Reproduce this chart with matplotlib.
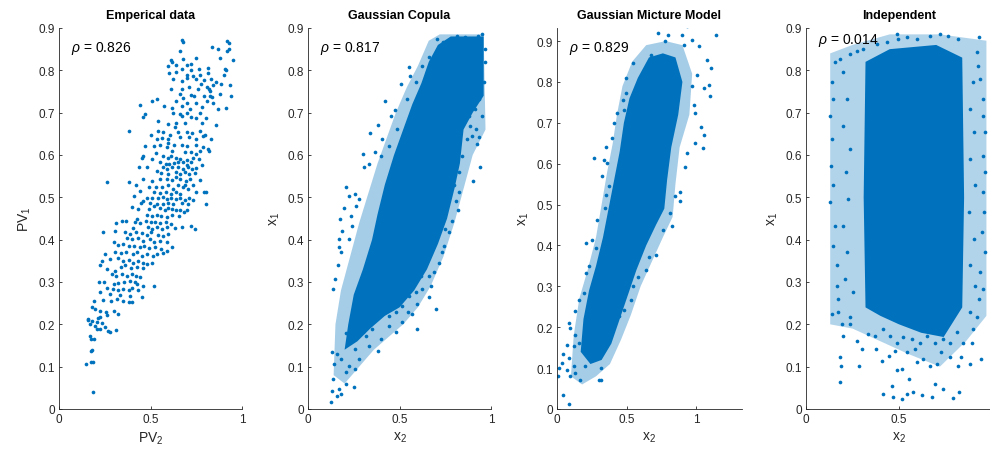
import numpy as np
import matplotlib.pyplot as plt

plt.rcParams['font.family'] = ['Liberation Sans', 'DejaVu Sans']
plt.rcParams['mathtext.fontset'] = 'custom'
plt.rcParams['mathtext.rm'] = 'Liberation Sans'
plt.rcParams['mathtext.it'] = 'Liberation Sans:italic'

BLUE = '#0072BD'
GREY = '#262626'

titles = ['Emperical data', 'Gaussian Copula', 'Gaussian Micture Model', 'Independent']
rho_vals = [0.826, 0.817, 0.829, 0.014]
xlabels = ['PV$_2$', 'x$_2$', 'x$_2$', 'x$_2$']
ylabels = ['PV$_1$', 'x$_1$', 'x$_1$', 'x$_1$']
xlims = [1.0, 1.0, 1.324, 1.0]
ylims = [0.9, 0.9, 0.932, 0.9]

# measured PV pairs (PV_2, PV_1)
emp_pts = [
    (0.67, 0.872), (0.68, 0.868), (0.92, 0.87), (0.93, 0.864), (0.835, 0.855), (0.87, 0.85), (0.66, 0.845),
    (0.93, 0.85), (0.92, 0.846), (0.61, 0.824), (0.62, 0.82), (0.675, 0.827), (0.75, 0.829), (0.95, 0.824),
    (0.88, 0.83), (0.595, 0.81), (0.64, 0.813), (0.70, 0.812), (0.72, 0.814), (0.765, 0.803), (0.815, 0.805),
    (0.907, 0.803), (0.915, 0.80), (0.72, 0.80), (0.67, 0.803), (0.60, 0.794), (0.637, 0.795), (0.70, 0.79),
    (0.73, 0.787), (0.77, 0.79), (0.815, 0.794), (0.90, 0.79), (0.625, 0.78), (0.67, 0.775), (0.70, 0.783),
    (0.75, 0.78), (0.79, 0.777), (0.83, 0.78), (0.857, 0.772), (0.777, 0.768), (0.84, 0.765), (0.887, 0.768),
    (0.933, 0.765), (0.67, 0.756), (0.61, 0.757), (0.71, 0.76), (0.76, 0.757), (0.81, 0.76), (0.818, 0.756),
    (0.827, 0.752), (0.66, 0.744), (0.72, 0.742), (0.74, 0.74), (0.79, 0.739), (0.824, 0.74), (0.837, 0.736),
    (0.88, 0.744), (0.94, 0.74), (0.677, 0.734), (0.534, 0.732), (0.506, 0.728), (0.637, 0.728), (0.70, 0.724),
    (0.75, 0.724), (0.81, 0.728), (0.84, 0.724), (0.44, 0.717), (0.575, 0.715), (0.615, 0.71), (0.67, 0.715),
    (0.715, 0.709), (0.78, 0.713), (0.87, 0.709), (0.915, 0.71), (0.77, 0.70), (0.624, 0.70), (0.66, 0.697),
    (0.70, 0.70), (0.47, 0.697), (0.46, 0.69), (0.673, 0.693), (0.724, 0.689), (0.75, 0.687), (0.806, 0.687),
    (0.86, 0.672), (0.593, 0.673), (0.64, 0.676), (0.69, 0.676), (0.543, 0.681), (0.635, 0.665), (0.78, 0.676),
    (0.385, 0.656), (0.50, 0.647), (0.543, 0.657), (0.57, 0.654), (0.606, 0.648), (0.65, 0.654), (0.697, 0.654),
    (0.728, 0.651), (0.77, 0.656), (0.80, 0.647), (0.83, 0.638), (0.534, 0.638), (0.565, 0.64), (0.597, 0.638),
    (0.66, 0.642), (0.71, 0.643), (0.75, 0.638), (0.788, 0.646), (0.47, 0.622), (0.52, 0.622), (0.55, 0.624),
    (0.593, 0.628), (0.63, 0.624), (0.67, 0.624), (0.70, 0.622), (0.746, 0.624), (0.788, 0.62), (0.815, 0.614),
    (0.818, 0.61), (0.588, 0.618), (0.615, 0.61), (0.688, 0.606), (0.72, 0.608), (0.75, 0.602), (0.77, 0.61),
    (0.457, 0.597), (0.53, 0.605), (0.566, 0.598), (0.597, 0.592), (0.61, 0.598), (0.642, 0.594), (0.66, 0.59),
    (0.697, 0.588), (0.733, 0.592), (0.764, 0.59), (0.452, 0.592), (0.506, 0.59), (0.55, 0.583), (0.583, 0.579),
    (0.602, 0.579), (0.628, 0.581), (0.65, 0.583), (0.68, 0.583), (0.70, 0.577), (0.724, 0.583), (0.784, 0.576),
    (0.436, 0.572), (0.48, 0.571), (0.57, 0.571), (0.59, 0.567), (0.615, 0.571), (0.65, 0.572), (0.675, 0.567),
    (0.706, 0.571), (0.726, 0.567), (0.75, 0.57), (0.534, 0.563), (0.56, 0.557), (0.597, 0.555), (0.642, 0.559),
    (0.66, 0.555), (0.688, 0.559), (0.71, 0.554), (0.742, 0.557), (0.26, 0.537), (0.385, 0.537), (0.46, 0.543),
    (0.506, 0.539), (0.55, 0.543), (0.588, 0.543), (0.62, 0.542), (0.637, 0.547), (0.66, 0.543), (0.693, 0.539),
    (0.715, 0.543), (0.77, 0.542), (0.42, 0.528), (0.443, 0.516), (0.49, 0.524), (0.53, 0.524), (0.565, 0.524),
    (0.597, 0.528), (0.624, 0.52), (0.652, 0.529), (0.675, 0.524), (0.69, 0.529), (0.706, 0.52), (0.73, 0.528),
    (0.75, 0.513), (0.793, 0.513), (0.806, 0.512), (0.52, 0.512), (0.55, 0.51), (0.584, 0.512), (0.613, 0.509),
    (0.642, 0.512), (0.66, 0.508), (0.41, 0.504), (0.483, 0.498), (0.51, 0.498), (0.543, 0.498), (0.57, 0.50),
    (0.588, 0.496), (0.61, 0.498), (0.637, 0.496), (0.66, 0.498), (0.688, 0.494), (0.71, 0.498), (0.733, 0.494),
    (0.446, 0.487), (0.46, 0.492), (0.497, 0.487), (0.533, 0.484), (0.566, 0.485), (0.597, 0.487), (0.624, 0.484),
    (0.67, 0.487), (0.706, 0.484), (0.806, 0.484), (0.397, 0.476), (0.434, 0.472), (0.492, 0.472), (0.52, 0.479),
    (0.55, 0.475), (0.58, 0.47), (0.597, 0.474), (0.62, 0.472), (0.642, 0.469), (0.66, 0.471), (0.682, 0.465),
    (0.697, 0.471), (0.479, 0.458), (0.506, 0.457), (0.534, 0.458), (0.56, 0.455), (0.588, 0.453), (0.615, 0.458),
    (0.655, 0.457), (0.425, 0.449), (0.31, 0.439), (0.343, 0.443), (0.365, 0.445), (0.416, 0.441), (0.443, 0.439),
    (0.474, 0.445), (0.50, 0.441), (0.524, 0.442), (0.552, 0.439), (0.582, 0.442), (0.61, 0.437), (0.485, 0.429),
    (0.51, 0.425), (0.534, 0.429), (0.565, 0.425), (0.588, 0.43), (0.633, 0.427), (0.67, 0.429), (0.72, 0.433),
    (0.742, 0.425), (0.403, 0.427), (0.243, 0.419), (0.307, 0.421), (0.36, 0.417), (0.39, 0.413), (0.42, 0.417),
    (0.452, 0.415), (0.48, 0.411), (0.50, 0.417), (0.543, 0.411), (0.57, 0.408), (0.597, 0.413), (0.37, 0.403),
    (0.397, 0.402), (0.434, 0.403), (0.46, 0.398), (0.497, 0.402), (0.52, 0.395), (0.552, 0.398), (0.588, 0.394),
    (0.62, 0.382), (0.30, 0.394), (0.325, 0.387), (0.352, 0.39), (0.38, 0.384), (0.41, 0.386), (0.44, 0.382),
    (0.466, 0.386), (0.494, 0.38), (0.524, 0.382), (0.56, 0.378), (0.588, 0.374), (0.307, 0.37), (0.338, 0.369),
    (0.367, 0.372), (0.403, 0.366), (0.428, 0.37), (0.452, 0.362), (0.483, 0.366), (0.512, 0.362), (0.534, 0.366),
    (0.566, 0.369), (0.252, 0.366), (0.234, 0.35), (0.28, 0.354), (0.32, 0.356), (0.348, 0.35), (0.38, 0.353),
    (0.407, 0.346), (0.434, 0.35), (0.457, 0.346), (0.48, 0.343), (0.506, 0.346), (0.338, 0.335), (0.36, 0.339),
    (0.392, 0.332), (0.425, 0.336), (0.457, 0.332), (0.26, 0.331), (0.307, 0.327), (0.225, 0.339), (0.288, 0.319),
    (0.312, 0.315), (0.343, 0.318), (0.37, 0.313), (0.397, 0.319), (0.42, 0.315), (0.443, 0.311), (0.388, 0.303),
    (0.416, 0.299), (0.356, 0.301), (0.221, 0.299), (0.245, 0.299), (0.298, 0.295), (0.325, 0.298), (0.425, 0.295),
    (0.52, 0.29), (0.461, 0.291), (0.26, 0.285), (0.294, 0.283), (0.32, 0.281), (0.352, 0.283), (0.38, 0.281),
    (0.397, 0.285), (0.43, 0.282), (0.225, 0.276), (0.28, 0.272), (0.334, 0.269), (0.39, 0.268), (0.452, 0.265),
    (0.385, 0.252), (0.397, 0.252), (0.243, 0.257), (0.285, 0.256), (0.316, 0.26), (0.352, 0.256), (0.19, 0.256),
    (0.18, 0.24), (0.194, 0.236), (0.225, 0.232), (0.258, 0.228), (0.298, 0.232), (0.325, 0.224), (0.26, 0.222),
    (0.225, 0.217), (0.212, 0.214), (0.16, 0.213), (0.18, 0.209), (0.207, 0.205), (0.234, 0.203), (0.17, 0.20),
    (0.196, 0.197), (0.254, 0.193), (0.21, 0.189), (0.225, 0.189), (0.27, 0.185), (0.28, 0.183), (0.312, 0.187),
    (0.157, 0.211), (0.17, 0.173), (0.175, 0.165), (0.19, 0.165), (0.175, 0.138), (0.18, 0.14), (0.175, 0.112),
    (0.185, 0.112), (0.15, 0.106), (0.185, 0.039),
]

# copula samples: saturated core outline, thinner speckled rim, scattered edge samples
cop_core = [
    [(0.22, 0.20), (0.25, 0.27), (0.30, 0.33), (0.35, 0.40), (0.38, 0.46), (0.42, 0.53), (0.47, 0.60),
     (0.52, 0.66), (0.57, 0.72), (0.62, 0.77), (0.66, 0.82), (0.71, 0.86), (0.78, 0.88), (0.96, 0.88),
     (0.96, 0.74), (0.90, 0.70), (0.85, 0.66), (0.83, 0.58), (0.80, 0.52), (0.76, 0.45), (0.71, 0.39),
     (0.65, 0.33), (0.58, 0.28), (0.50, 0.24), (0.42, 0.22), (0.34, 0.19), (0.27, 0.16), (0.20, 0.14)],
]
cop_halo = [
    [(0.14, 0.08), (0.15, 0.20), (0.18, 0.28), (0.23, 0.36), (0.28, 0.44), (0.33, 0.51), (0.38, 0.58),
     (0.43, 0.64), (0.48, 0.70), (0.54, 0.76), (0.60, 0.81), (0.66, 0.87), (0.72, 0.885), (0.96, 0.885),
     (0.97, 0.66), (0.90, 0.60), (0.85, 0.52), (0.80, 0.44), (0.74, 0.36), (0.67, 0.29), (0.60, 0.24),
     (0.52, 0.20), (0.44, 0.17), (0.36, 0.14), (0.28, 0.10), (0.20, 0.06)],
]
cop_pts = [
    (0.55, 0.807), (0.51, 0.768), (0.56, 0.786), (0.42, 0.728), (0.38, 0.671), (0.34, 0.652), (0.456, 0.691),
    (0.474, 0.706), (0.407, 0.638), (0.367, 0.606), (0.298, 0.602), (0.307, 0.571), (0.207, 0.524),
    (0.194, 0.474), (0.174, 0.449), (0.185, 0.421), (0.17, 0.402), (0.225, 0.504), (0.258, 0.509),
    (0.28, 0.496), (0.334, 0.579), (0.397, 0.598), (0.443, 0.622), (0.488, 0.661), (0.543, 0.732),
    (0.588, 0.772), (0.624, 0.811), (0.66, 0.831), (0.94, 0.571), (0.90, 0.539), (0.925, 0.626), (0.896, 0.646),
    (0.92, 0.661), (0.878, 0.693), (0.842, 0.598), (0.82, 0.469), (0.81, 0.492), (0.77, 0.417), (0.742, 0.386),
    (0.697, 0.236), (0.66, 0.264), (0.67, 0.291), (0.597, 0.248), (0.597, 0.189), (0.57, 0.224), (0.515, 0.205),
    (0.548, 0.228), (0.479, 0.181), (0.443, 0.197), (0.38, 0.138), (0.334, 0.15), (0.28, 0.118), (0.258, 0.094),
    (0.207, 0.087), (0.21, 0.059), (0.252, 0.051), (0.17, 0.047), (0.18, 0.035), (0.156, 0.031), (0.13, 0.043),
    (0.125, 0.016), (0.138, 0.071), (0.143, 0.106), (0.156, 0.13), (0.13, 0.134), (0.18, 0.118), (0.225, 0.102),
    (0.258, 0.142), (0.316, 0.173), (0.352, 0.189), (0.397, 0.165), (0.298, 0.181), (0.138, 0.283),
    (0.149, 0.307), (0.162, 0.339), (0.18, 0.37), (0.17, 0.382), (0.234, 0.457), (0.265, 0.48), (0.243, 0.433),
    (0.225, 0.402), (0.706, 0.874), (0.737, 0.866), (0.77, 0.858), (0.815, 0.882), (0.86, 0.878), (0.95, 0.886),
    (0.878, 0.874), (0.93, 0.882), (0.965, 0.819), (0.969, 0.85), (0.96, 0.772), (0.933, 0.732), (0.95, 0.693),
    (0.915, 0.709), (0.887, 0.669), (0.87, 0.638), (0.933, 0.642), (0.824, 0.559), (0.797, 0.528),
    (0.824, 0.512), (0.788, 0.445), (0.751, 0.425), (0.733, 0.37), (0.715, 0.346), (0.688, 0.323), (0.66, 0.315),
    (0.624, 0.283), (0.615, 0.315), (0.588, 0.276), (0.552, 0.268), (0.515, 0.244), (0.479, 0.228),
    (0.443, 0.22), (0.207, 0.18),
]

# mixture model samples
gmm_core = [
    [(0.17, 0.14), (0.19, 0.22), (0.23, 0.29), (0.28, 0.35), (0.33, 0.42), (0.37, 0.49), (0.41, 0.56),
     (0.45, 0.63), (0.48, 0.70), (0.52, 0.76), (0.58, 0.81), (0.66, 0.86), (0.76, 0.87), (0.85, 0.86),
     (0.90, 0.80), (0.87, 0.72), (0.82, 0.64), (0.79, 0.56), (0.77, 0.49), (0.71, 0.45), (0.64, 0.40),
     (0.57, 0.34), (0.51, 0.28), (0.45, 0.22), (0.39, 0.16), (0.32, 0.12), (0.24, 0.11)],
]
gmm_halo = [
    [(0.10, 0.08), (0.12, 0.18), (0.16, 0.27), (0.22, 0.34), (0.28, 0.42), (0.32, 0.50), (0.36, 0.58),
     (0.40, 0.65), (0.43, 0.72), (0.47, 0.79), (0.54, 0.85), (0.64, 0.89), (0.78, 0.90), (0.90, 0.89),
     (0.97, 0.82), (0.95, 0.72), (0.88, 0.64), (0.85, 0.55), (0.83, 0.47), (0.76, 0.42), (0.68, 0.36),
     (0.60, 0.30), (0.53, 0.23), (0.46, 0.17), (0.38, 0.11), (0.28, 0.08), (0.18, 0.06)],
]
gmm_pts = [
    (0.01, 0.08), (0.015, 0.10), (0.034, 0.113), (0.046, 0.135), (0.083, 0.012), (0.046, 0.035), (0.07, 0.096),
    (0.095, 0.08), (0.119, 0.104), (0.083, 0.125), (0.119, 0.153), (0.155, 0.161), (0.131, 0.088),
    (0.204, 0.104), (0.167, 0.072), (0.301, 0.072), (0.313, 0.10), (0.265, 0.129), (0.083, 0.21),
    (0.095, 0.198), (0.131, 0.239), (0.155, 0.267), (0.192, 0.284), (0.131, 0.182), (0.07, 0.157),
    (0.209, 0.333), (0.228, 0.349), (0.277, 0.394), (0.252, 0.414), (0.209, 0.406), (0.284, 0.463),
    (0.265, 0.614), (0.345, 0.492), (0.35, 0.524), (0.374, 0.545), (0.325, 0.569), (0.362, 0.602),
    (0.34, 0.61), (0.35, 0.642), (0.398, 0.663), (0.41, 0.699), (0.434, 0.724), (0.483, 0.732), (0.471, 0.756),
    (0.495, 0.773), (0.495, 0.81), (0.544, 0.846), (0.617, 0.801), (0.677, 0.867), (0.726, 0.92), (0.774, 0.90),
    (0.799, 0.915), (0.896, 0.915), (0.932, 0.936), (0.968, 0.903), (0.908, 0.891), (1.017, 0.887),
    (1.078, 0.854), (1.102, 0.834), (1.138, 0.914), (1.09, 0.793), (1.053, 0.785), (1.097, 0.765),
    (1.005, 0.818), (0.968, 0.789), (0.98, 0.744), (0.993, 0.724), (1.03, 0.691), (1.053, 0.671),
    (1.049, 0.638), (0.993, 0.651), (0.932, 0.626), (0.92, 0.593), (0.883, 0.532), (0.883, 0.508),
    (0.81, 0.479), (0.847, 0.52), (0.823, 0.447), (0.762, 0.439), (0.714, 0.377), (0.66, 0.373),
    (0.641, 0.341), (0.58, 0.324), (0.544, 0.30), (0.532, 0.267), (0.483, 0.243), (0.447, 0.227),
    (0.398, 0.198), (0.35, 0.161), (0.313, 0.137), (0.252, 0.121), (0.313, 0.072),
]

# independent samples
ind_core = [
    [(0.32, 0.24), (0.31, 0.50), (0.32, 0.82), (0.45, 0.85), (0.70, 0.86), (0.84, 0.83), (0.85, 0.50),
     (0.84, 0.24), (0.74, 0.17), (0.62, 0.18), (0.50, 0.20), (0.40, 0.22)],
]
ind_halo = [
    [(0.13, 0.20), (0.13, 0.84), (0.25, 0.86), (0.45, 0.885), (0.72, 0.885), (0.97, 0.87), (0.97, 0.22),
     (0.86, 0.16), (0.72, 0.10), (0.55, 0.13), (0.40, 0.16), (0.25, 0.19)],
]
ind_pts = [
    (0.412, 0.035), (0.46, 0.055), (0.466, 0.028), (0.514, 0.024), (0.541, 0.035), (0.577, 0.039),
    (0.622, 0.033), (0.676, 0.029), (0.694, 0.059), (0.738, 0.047), (0.792, 0.025), (0.824, 0.039),
    (0.183, 0.063), (0.487, 0.091), (0.514, 0.094), (0.556, 0.071), (0.407, 0.114), (0.446, 0.126),
    (0.478, 0.138), (0.541, 0.134), (0.586, 0.142), (0.595, 0.11), (0.631, 0.118), (0.667, 0.102),
    (0.703, 0.106), (0.724, 0.134), (0.774, 0.122), (0.819, 0.102), (0.833, 0.122), (0.882, 0.106),
    (0.939, 0.118), (0.891, 0.157), (0.90, 0.189), (0.918, 0.217), (0.846, 0.157), (0.81, 0.181),
    (0.774, 0.157), (0.738, 0.165), (0.694, 0.157), (0.649, 0.173), (0.613, 0.157), (0.568, 0.165),
    (0.523, 0.169), (0.487, 0.157), (0.452, 0.173), (0.416, 0.189), (0.371, 0.173), (0.376, 0.142),
    (0.335, 0.177), (0.299, 0.142), (0.287, 0.102), (0.272, 0.161), (0.237, 0.201), (0.201, 0.173),
    (0.183, 0.122), (0.186, 0.102), (0.192, 0.201), (0.138, 0.224), (0.174, 0.228), (0.237, 0.217),
    (0.487, 0.886), (0.496, 0.874), (0.541, 0.878), (0.595, 0.874), (0.667, 0.882), (0.72, 0.886),
    (0.765, 0.88), (0.819, 0.874), (0.928, 0.878), (0.434, 0.866), (0.38, 0.862), (0.308, 0.85),
    (0.272, 0.846), (0.237, 0.839), (0.183, 0.827), (0.156, 0.819), (0.138, 0.772), (0.147, 0.732),
    (0.129, 0.693), (0.138, 0.638), (0.133, 0.575), (0.147, 0.528), (0.129, 0.488), (0.156, 0.433),
    (0.147, 0.386), (0.165, 0.339), (0.168, 0.291), (0.174, 0.26), (0.918, 0.843), (0.926, 0.811),
    (0.935, 0.78), (0.953, 0.732), (0.95, 0.693), (0.962, 0.654), (0.953, 0.598), (0.962, 0.559),
    (0.953, 0.512), (0.957, 0.465), (0.944, 0.417), (0.962, 0.37), (0.935, 0.323), (0.953, 0.283),
    (0.932, 0.26), (0.882, 0.228), (0.201, 0.795), (0.219, 0.732), (0.201, 0.669), (0.237, 0.614),
    (0.215, 0.559), (0.228, 0.496), (0.201, 0.433), (0.219, 0.37), (0.21, 0.307), (0.254, 0.276),
    (0.90, 0.772), (0.882, 0.709), (0.903, 0.654), (0.882, 0.591), (0.909, 0.528), (0.879, 0.465),
    (0.903, 0.402), (0.882, 0.339), (0.909, 0.291),
]

# (rim outlines, rim alpha, core outlines, samples)
panels = [
    ([], 0, [], emp_pts),
    (cop_halo, 0.35, cop_core, cop_pts),
    (gmm_halo, 0.35, gmm_core, gmm_pts),
    (ind_halo, 0.3, ind_core, ind_pts),
]

fig = plt.figure(figsize=(9.9, 4.56), dpi=100)
W, H = 990.0, 456.0
lefts = [59, 308, 557, 806]
widths = [183, 183, 184.5, 186]

for i in range(4):
    ax = fig.add_axes([lefts[i] / W, 46 / H, widths[i] / W, 381 / H])
    halo, halo_a, core, pts = panels[i]
    for poly in halo:
        px, py = zip(*poly)
        ax.fill(px, py, color=BLUE, alpha=halo_a, lw=0, zorder=1)
    for poly in core:
        px, py = zip(*poly)
        ax.fill(px, py, color=BLUE, lw=0, zorder=1)
    pts = np.array(pts)
    ax.scatter(pts[:, 0], pts[:, 1], s=7, color=BLUE, linewidths=0, zorder=2)

    ax.set_xlim(0, xlims[i])
    ax.set_ylim(0, ylims[i])
    ax.set_xticks([0, 0.5, 1])
    ax.set_xticklabels(['0', '0.5', '1'])
    ax.set_yticks(np.arange(0, 0.91, 0.1))
    ax.set_yticklabels(['0'] + ['%.1f' % v for v in np.arange(0.1, 0.91, 0.1)])
    for side in ['top', 'right']:
        ax.spines[side].set_visible(False)
    for side in ['left', 'bottom']:
        ax.spines[side].set_color(GREY)
        ax.spines[side].set_linewidth(0.6)
    ax.tick_params(direction='in', length=2.5, width=0.6, colors=GREY,
                   labelsize=8.5, pad=3)
    ax.set_title(titles[i], fontsize=9, fontweight='bold', pad=7)
    ax.set_xlabel(xlabels[i], fontsize=10, color=GREY, labelpad=3)
    ax.set_ylabel(ylabels[i], fontsize=10, color=GREY, labelpad=4)
    ytxt = [0.855, 0.855, 0.885, 0.874][i]
    ax.text(0.065 * xlims[i], ytxt, r'$\rho$ = %.3f' % rho_vals[i], fontsize=10,
            va='center', ha='left', color='black', zorder=3)

fig.savefig('out.png', dpi=100)
